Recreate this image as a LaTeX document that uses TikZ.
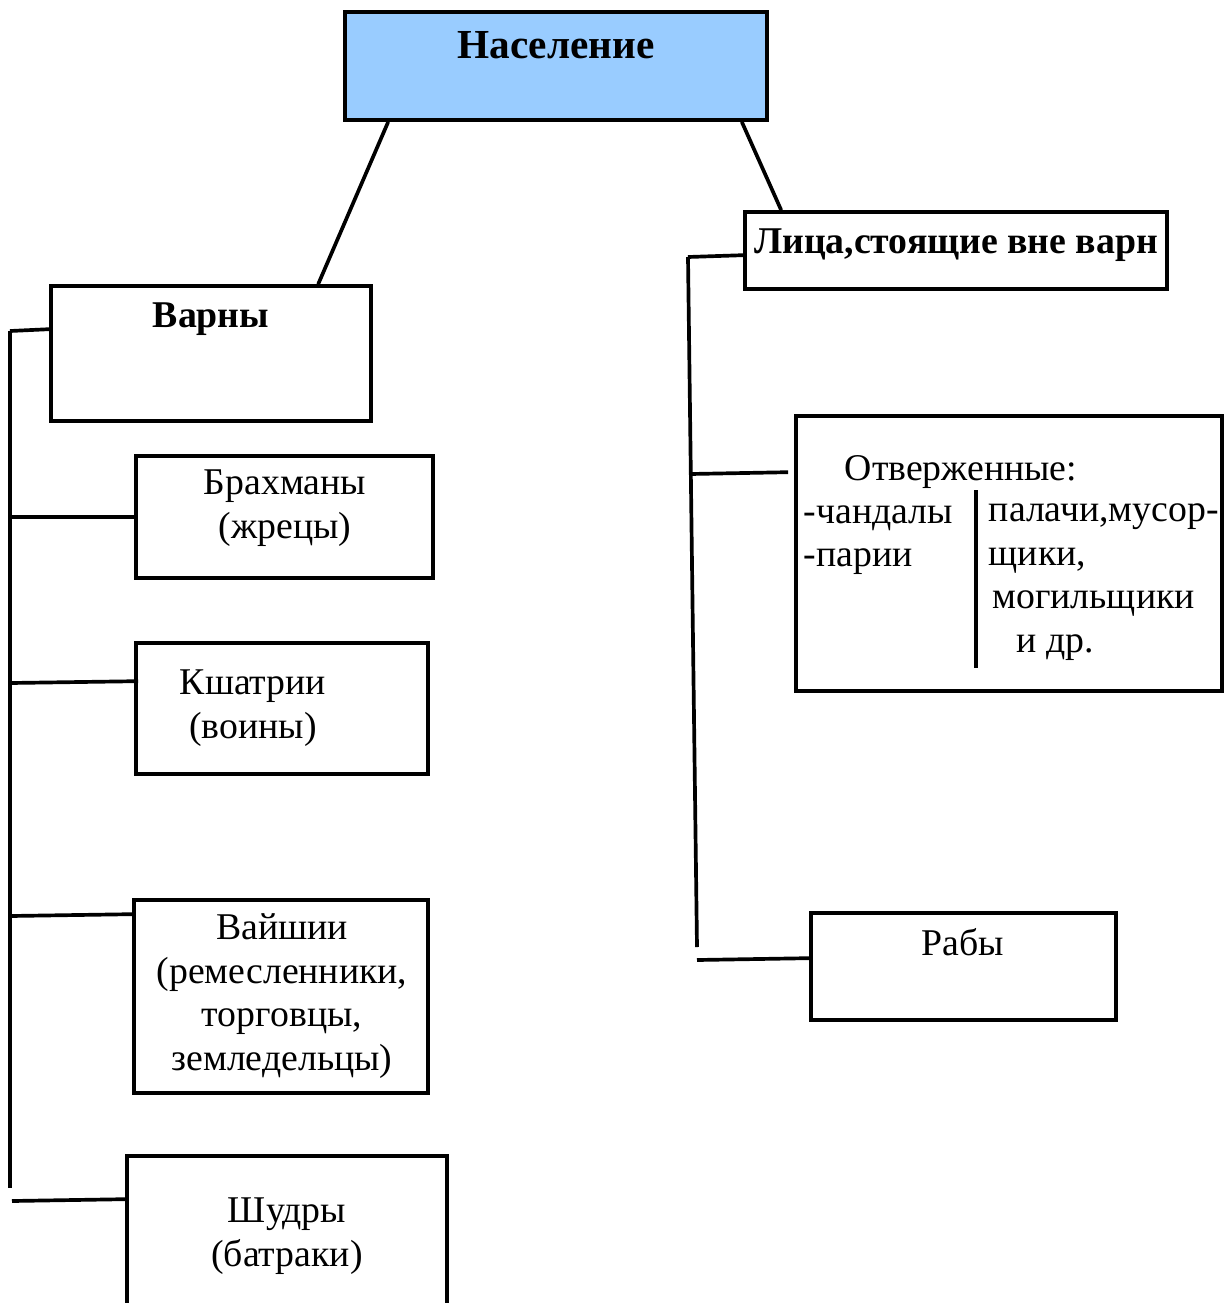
\documentclass[tikz,border=0pt]{standalone}
\usepackage{fontspec}
\setmainfont{Liberation Serif}
\usetikzlibrary{calc}

\begin{document}
\begin{tikzpicture}[x=0.02cm,y=-0.02cm,line width=2.1pt,
  box/.style={draw,rectangle,inner sep=0pt},
  txt/.style={inner sep=0pt,align=center,font=\fontsize{21.5}{24.8}\selectfont},
  btxt/.style={inner sep=0pt,font=\fontsize{21.5}{24.8}\selectfont\bfseries}]
\useasboundingbox (0,0) rectangle (1230,1303);
\clip (0,0) rectangle (1230,1303);
\node [box,fill={rgb,255:red,153;green,204;blue,255},minimum width=8.44cm,minimum height=2.16cm] (nas) at (556,66) {};
\node [btxt,font=\fontsize{23.5}{27}\selectfont\bfseries] (nast) at (556,45) {Население};
\node [box,minimum width=6.4cm,minimum height=2.7cm] (varny) at (211,353.5) {};
\node [btxt] (varnyt) at (211,319) {Варны};
\node [box,minimum width=8.44cm,minimum height=1.54cm] (lica) at (956,250.5) {};
\node [btxt] (licat) at (956,245) {Лица,стоящие вне варн};
\draw ($(nas.south west)+(45,0)$) -- ($(varny.north west)+(269,0)$);
\draw ($(nas.south east)+(-27,0)$) -- ($(lica.north west)+(38,0)$);
\node [box,minimum width=5.94cm,minimum height=2.44cm] (brah) at (284.5,517) {};
\node [txt] (braht) at (285,508) {Брахманы\\(жрецы)};
\node [box,minimum width=5.84cm,minimum height=2.62cm] (kshat) at (282,708.5) {};
\node [txt] (kshatt) at (253,708) {Кшатрии\\(воины)};
\node [box,minimum width=5.88cm,minimum height=3.86cm] (vaish) at (281,996.5) {};
\node [txt] (vaisht) at (282,996) {Вайшии\\(ремесленники,\\торговцы,\\земледельцы)};
\node [box,minimum width=6.4cm,minimum height=3.8cm] (shud) at (287,1251) {};
\node [txt] (shudt) at (287,1236) {Шудры\\(батраки)};
\coordinate (ltop) at (10,331);
\coordinate (lbot) at (10,1188);
\draw (ltop) -- ($(varny.north west)+(0,45)$);
\draw (ltop) -- (lbot);
\draw (ltop |- brah.west) -- (brah.west);
\draw (ltop |- 0,683) -- ($(kshat.north west)+(4,40)$);
\draw (ltop |- 0,916) -- ($(vaish.north west)+(0,16)$);
\draw (12,1201) -- ($(shud.north west)+(0,45)$);
\node [box,minimum width=8.52cm,minimum height=5.5cm] (otv) at (1009,553.5) {};
\node [txt] (otvt) at (961,472) {Отверженные:};
\node [txt,align=left,anchor=west] (otvl) at (802,540) {-чандалы\\-парии};
\node [txt,align=left,anchor=west] (otvr) at (987,582) {палачи,мусор-\\щики,\\\hspace*{2pt}могильщики\\\hspace*{16pt}и др.};
\draw (976,490) -- (976,668);
\node [box,minimum width=6.1cm,minimum height=2.14cm] (rab) at (963.5,966.5) {};
\node [txt] (rabt) at (963,942) {Рабы};
\coordinate (rtop) at (688,257);
\coordinate (rbot) at (697,947);
\draw (rtop) -- ($(lica.north west)+(0,45)$);
\draw (rtop) -- (rbot);
\draw (690,474) -- ($(otv.north west)+(-6,58)$);
\draw (697,960) -- ($(rab.north west)+(0,47)$);
\end{tikzpicture}
\end{document}
